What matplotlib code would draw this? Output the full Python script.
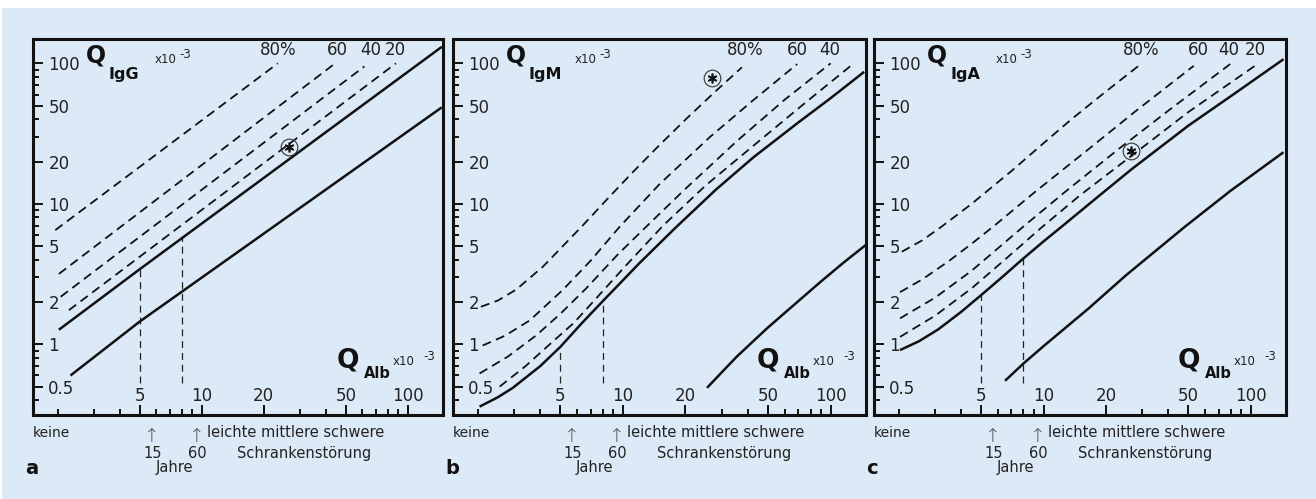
import matplotlib
matplotlib.use("Agg")
import matplotlib.pyplot as plt
from matplotlib.patches import Rectangle
from matplotlib.ticker import FixedLocator, FixedFormatter, NullFormatter

# ---------------- data (all quotients x10^-3) ----------------
x_major = [5, 10, 20, 50, 100]
x_major_labels = ['5', '10', '20', '50', '100']
x_minor = [2, 3, 4, 6, 7, 8, 9, 30, 40, 60, 70, 80, 90]
y_major = [0.5, 1, 2, 5, 10, 20, 50, 100]
y_major_labels = ['0.5', '1', '2', '5', '10', '20', '50', '100']
y_minor = [0.4, 0.6, 0.7, 0.8, 0.9, 3, 4, 6, 7, 8, 9, 30, 40, 60, 70, 80, 90]

panel_letters = ['a', 'b', 'c']
immunoglobulins = ['IgG', 'IgM', 'IgA']

# Panel a: IgG
igg_upper_x = [2.03, 5.0, 146]
igg_upper_y = [1.27, 3.42, 131]
igg_lower_x = [2.31, 5.0, 146]
igg_lower_y = [0.60, 1.45, 48.6]
igg_80_x = [1.95, 23.4]
igg_80_y = [6.5, 100]
igg_60_x = [2.03, 43.2]
igg_60_y = [3.17, 97]
igg_40_x = [2.07, 61.5]
igg_40_y = [2.18, 95]
igg_20_x = [2.27, 87.5]
igg_20_y = [1.75, 100]
igg_fraction_labels = ['80%', '60', '40', '20']
igg_age_top = [3.42, 5.7]
igg_star = (26.5, 25.5)

# Panel b: IgM
igm_upper_x = [2.04, 2.5, 2.95, 4.0, 5.0, 6.3, 8.0, 12, 17.8, 28, 42.6, 70, 100, 145]
igm_upper_y = [0.36, 0.42, 0.49, 0.70, 0.96, 1.40, 2.03, 3.78, 6.7, 12.6, 21.5, 38, 56.5, 87]
igm_lower_x = [25.4, 30, 35.4, 49.4, 65, 89.6, 115, 147.5]
igm_lower_y = [0.49, 0.635, 0.82, 1.30, 1.85, 2.79, 3.8, 5.09]
igm_80_x = [2.07, 2.5, 3.06, 4.12, 5.0, 6.43, 8.5, 11.2, 15, 20.3, 28, 37.4]
igm_80_y = [1.85, 2.05, 2.45, 3.57, 4.8, 7.06, 11, 16.9, 26.2, 40.6, 63.5, 93.7]
igm_60_x = [2.11, 2.7, 3.56, 5.15, 7.0, 9.67, 15, 26.3, 42, 69]
igm_60_y = [0.98, 1.15, 1.48, 2.45, 3.95, 6.9, 13.8, 30, 54, 98.8]
igm_40_x = [2.04, 2.8, 3.83, 5.0, 6.67, 9.5, 13.5, 20, 35.4, 60, 100]
igm_40_y = [0.62, 0.82, 1.16, 1.65, 2.51, 4.4, 7.3, 12.8, 28, 55, 100]
igm_20_x = [2.55, 3.4, 4.44, 5.8, 7.19, 10, 15.7, 25, 42.6, 75, 125]
igm_20_y = [0.50, 0.70, 1.0, 1.42, 2.01, 3.45, 7.06, 13.5, 26, 52, 96]
igm_fraction_labels = ['80%', '60', '40']
igm_age_top = [0.97, 2.02]
igm_star = (26.8, 78)

# Panel c: IgA
iga_upper_x = [2.03, 2.5, 3.11, 4.0, 5.0, 6.3, 8.0, 10, 12.5, 18, 26.7, 50, 85, 144]
iga_upper_y = [0.91, 1.05, 1.28, 1.7, 2.24, 3.0, 4.09, 5.4, 7.06, 11, 17.7, 36, 62, 107]
iga_lower_x = [6.52, 8.0, 10, 16.5, 25, 48.3, 80, 144]
iga_lower_y = [0.55, 0.73, 0.97, 1.80, 3.1, 6.9, 12.4, 23.3]
iga_80_x = [2.07, 2.6, 3.23, 4.5, 7.03, 10, 13.7, 20, 29.8]
iga_80_y = [4.56, 5.5, 6.9, 10, 17.2, 27, 40.2, 63, 100]
iga_60_x = [2.03, 2.6, 3.48, 4.5, 5.84, 9.0, 16.5, 28, 53.1]
iga_60_y = [2.35, 2.9, 3.9, 5.2, 7.06, 12, 24.5, 46, 96]
iga_40_x = [2.03, 3.0, 4.51, 6.0, 8.15, 13, 23, 40, 79.6]
iga_40_y = [1.53, 2.15, 3.35, 4.8, 7.06, 12.5, 24.5, 46, 98.8]
iga_20_x = [2.03, 3.0, 4.51, 6.5, 9.8, 15, 27.7, 50, 109]
iga_20_y = [1.13, 1.6, 2.51, 4.0, 6.8, 11.5, 23, 45, 100]
iga_fraction_labels = ['80%', '60', '40', '20']
iga_age_top = [2.24, 4.09]
iga_star = (26.5, 23.9)

age_qalb = [5, 8]          # 15 and 60 years
age_bottom = 0.53

# ---------------- layout / style ----------------
W, H = 1316, 499
BG = '#dce9f6'
INK = '#111111'
plt.rcParams['lines.scale_dashes'] = False
plt.rcParams['font.family'] = ['DejaVu Sans']

fig = plt.figure(figsize=(W / 100, H / 100), dpi=100)
fig.patch.set_facecolor('white')
fig.add_artist(Rectangle((2 / W, 0), 1 - 2 / W, 1 - 8 / H, transform=fig.transFigure,
                         facecolor=BG, edgecolor='none', zorder=-10))

PANEL_LEFT = [33, 453, 874]
PANEL_RIGHT = [443, 866, 1286]
TOP, BOTTOM = 39, 415
label_offsets = [[245, 304, 338, 362], [292, 344, 377], [267, 324, 355, 381]]

panels = [
    dict(upper=(igg_upper_x, igg_upper_y), lower=(igg_lower_x, igg_lower_y),
         dashed=[(igg_80_x, igg_80_y), (igg_60_x, igg_60_y), (igg_40_x, igg_40_y), (igg_20_x, igg_20_y)],
         labels=igg_fraction_labels, age_top=igg_age_top, star=igg_star),
    dict(upper=(igm_upper_x, igm_upper_y), lower=(igm_lower_x, igm_lower_y),
         dashed=[(igm_80_x, igm_80_y), (igm_60_x, igm_60_y), (igm_40_x, igm_40_y), (igm_20_x, igm_20_y)],
         labels=igm_fraction_labels, age_top=igm_age_top, star=igm_star),
    dict(upper=(iga_upper_x, iga_upper_y), lower=(iga_lower_x, iga_lower_y),
         dashed=[(iga_80_x, iga_80_y), (iga_60_x, iga_60_y), (iga_40_x, iga_40_y), (iga_20_x, iga_20_y)],
         labels=iga_fraction_labels, age_top=iga_age_top, star=iga_star),
]

for i, p in enumerate(panels):
    L, R = PANEL_LEFT[i], PANEL_RIGHT[i]
    w, h = R - L, BOTTOM - TOP
    ax = fig.add_axes([L / W, 1 - BOTTOM / H, w / W, h / H])
    ax.set_facecolor(BG)
    ax.set_xscale('log')
    ax.set_yscale('log')
    ax.set_xlim(1.52, 148)
    ax.set_ylim(0.314, 149)
    for s in ax.spines.values():
        s.set_linewidth(2.2)
        s.set_color(INK)

    ax.xaxis.set_major_locator(FixedLocator(x_major))
    ax.xaxis.set_major_formatter(FixedFormatter(x_major_labels))
    ax.xaxis.set_minor_locator(FixedLocator(x_minor))
    ax.xaxis.set_minor_formatter(NullFormatter())
    ax.yaxis.set_major_locator(FixedLocator(y_major))
    ax.yaxis.set_major_formatter(FixedFormatter(y_major_labels))
    ax.yaxis.set_minor_locator(FixedLocator(y_minor))
    ax.yaxis.set_minor_formatter(NullFormatter())
    ax.tick_params(axis='both', which='both', direction='in', top=False, right=False,
                   color=INK, width=1.4, labelcolor='#222222', labelsize=12)
    ax.tick_params(axis='x', which='major', length=7, pad=-20)
    ax.tick_params(axis='x', which='minor', length=4)
    ax.tick_params(axis='y', which='major', length=7, pad=-11)
    ax.tick_params(axis='y', which='minor', length=4.3)
    for t in ax.get_yticklabels():
        t.set_horizontalalignment('left')

    # curves
    ax.plot(*p['upper'], color=INK, lw=1.8, solid_capstyle='butt', solid_joinstyle='round', zorder=3)
    ax.plot(*p['lower'], color=INK, lw=1.8, solid_capstyle='butt', solid_joinstyle='round', zorder=3)
    for dx, dy in p['dashed']:
        ax.plot(dx, dy, color=INK, lw=1.3, dashes=(6.5, 4.0), zorder=3)
    for xv, yt in zip(age_qalb, p['age_top']):
        ax.plot([xv, xv], [age_bottom, yt], color='#222222', lw=0.9, dashes=(5, 3.5), zorder=2)

    # circled asterisk
    sx, sy = p['star']
    ax.plot([sx], [sy], marker='o', ms=12, mfc='none', mec='#333333', mew=0.8, zorder=4)
    ax.plot([sx], [sy], marker=(6, 2, 0), ms=7, mec=INK, mew=1.2, zorder=4)

    def fr(dx, dy_top):
        return dx / w, 1 - dy_top / h

    # fraction labels on top
    for txt, off in zip(p['labels'], label_offsets[i]):
        ax.text(*fr(off, 16), txt, transform=ax.transAxes, ha='center', va='baseline',
                fontsize=12, color='#222222')

    # y-axis title
    ax.text(*fr(53, 24), 'Q', transform=ax.transAxes, ha='left', va='baseline',
            fontsize=17, fontweight='heavy', color=INK)
    ax.text(*fr(76, 40), immunoglobulins[i], transform=ax.transAxes, ha='left', va='baseline',
            fontsize=11.5, fontweight='bold', color=INK)
    ax.text(*fr(122, 24), 'x10', transform=ax.transAxes, ha='left', va='baseline',
            fontsize=8.5, color='#222222')
    ax.text(*fr(146, 19), '-3', transform=ax.transAxes, ha='left', va='baseline',
            fontsize=8.5, color='#222222')

    # x-axis title (inside, bottom right)
    ax.text(*fr(304, h - 48), 'Q', transform=ax.transAxes, ha='left', va='baseline',
            fontsize=19, fontweight='heavy', color=INK)
    ax.text(*fr(331, h - 37), 'Alb', transform=ax.transAxes, ha='left', va='baseline',
            fontsize=10.5, fontweight='bold', color=INK)
    ax.text(*fr(360, h - 50), 'x10', transform=ax.transAxes, ha='left', va='baseline',
            fontsize=8.5, color='#222222')
    ax.text(*fr(390, h - 55), '-3', transform=ax.transAxes, ha='left', va='baseline',
            fontsize=8.5, color='#222222')

    # texts below axes
    def ft(dx, py):
        return (L + dx) / W, 1 - py / H

    fig.text(*ft(0, 437), 'keine', ha='left', va='baseline', fontsize=10, color='#222222')
    for off in (119, 164):
        fig.text(*ft(off, 442), '\u2191', ha='center', va='baseline', fontsize=13.5,
                 color='#555555', fontweight='light')
    fig.text(*ft(174, 437), 'leichte mittlere schwere', ha='left', va='baseline',
             fontsize=10.5, color='#222222')
    fig.text(*ft(120, 458), '15', ha='center', va='baseline', fontsize=10.5, color='#222222')
    fig.text(*ft(164, 458), '60', ha='center', va='baseline', fontsize=10.5, color='#222222')
    fig.text(*ft(204, 458), 'Schrankenstörung', ha='left', va='baseline',
             fontsize=10.5, color='#222222')
    fig.text(*ft(141, 472), 'Jahre', ha='center', va='baseline', fontsize=10.5, color='#222222')
    fig.text(*ft(-8, 474), panel_letters[i], ha='left', va='baseline', fontsize=14,
             fontweight='bold', color=INK)

fig.savefig('out.png', dpi=100, facecolor=fig.get_facecolor())
